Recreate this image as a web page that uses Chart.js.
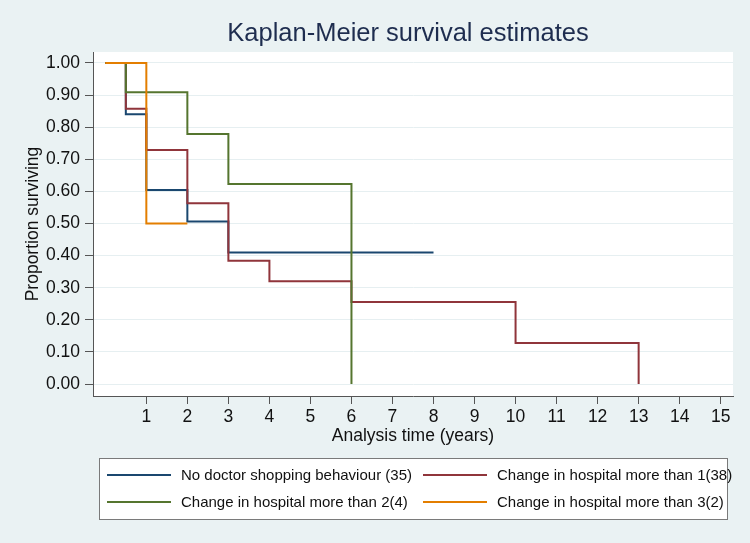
<!DOCTYPE html>
<html>
<head>
<meta charset="utf-8">
<script src="https://cdn.jsdelivr.net/npm/chart.js@4"></script>
<style>
	body { margin: 0; background: #eaf2f3; }
	canvas { display: block; }
</style>
</head>
<body>
<canvas id="kmChart" width="750" height="543"></canvas>
<script>
// survival step data (time in years, proportion surviving)
const noShopTime = [0, 0.5, 1, 2, 3, 8];
const noShopSurv = [1.0, 0.84, 0.604, 0.506, 0.41, 0.41];
const hosp1Time = [0, 0.5, 1, 2, 3, 4, 6, 10, 13];
const hosp1Surv = [1.0, 0.857, 0.729, 0.563, 0.384, 0.32, 0.256, 0.128, 0];
const hosp2Time = [0, 0.5, 2, 3, 6];
const hosp2Surv = [1.0, 0.909, 0.779, 0.623, 0];
const hosp3Time = [0, 1, 2];
const hosp3Surv = [1.0, 0.5, 0.5];

const seriesLabels = [
	"No doctor shopping behaviour (35)",
	"Change in hospital more than 1(38)",
	"Change in hospital more than 2(4)",
	"Change in hospital more than 3(2)"
];
const seriesColors = ["#1a476f", "#90353b", "#55752f", "#e37e00"];

const xTickValues = [1, 2, 3, 4, 5, 6, 7, 8, 9, 10, 11, 12, 13, 14, 15];
const yTickValues = [0, 0.1, 0.2, 0.3, 0.4, 0.5, 0.6, 0.7, 0.8, 0.9, 1.0];

const FONT = "'Liberation Sans', Arial, sans-serif";

function toPoints (times, surv) {
	return times.map((t, i) => ({ x: t, y: surv[i] }));
}

const allSeries = [
	toPoints(noShopTime, noShopSurv),
	toPoints(hosp1Time, hosp1Surv),
	toPoints(hosp2Time, hosp2Surv),
	toPoints(hosp3Time, hosp3Surv)
];

// later series drawn on top, like stata
const drawOrder = [3, 2, 1, 0];

const datasets = allSeries.map((pts, i) => ({
	label: seriesLabels[i],
	data: pts,
	borderColor: seriesColors[i],
	borderWidth: 2,
	pointRadius: 0,
	stepped: 'before',
	fill: false,
	order: drawOrder[i]
}));

// white plot region, title and boxed legend
const kmDecor = {
	id: 'kmDecor',
	beforeDraw (chart) {
		const { ctx, chartArea } = chart;
		ctx.save();
		ctx.fillStyle = '#ffffff';
		ctx.fillRect(chartArea.left, chartArea.top, chartArea.right - chartArea.left, chartArea.bottom - chartArea.top);
		ctx.restore();
	},
	afterDraw (chart) {
		const ctx = chart.ctx;
		ctx.save();

		ctx.fillStyle = '#1e2d4f';
		ctx.font = `25.5px ${FONT}`;
		ctx.textAlign = 'center';
		ctx.textBaseline = 'middle';
		ctx.fillText("Kaplan-Meier survival estimates", 408, 34);

		// legend box
		ctx.fillStyle = '#ffffff';
		ctx.fillRect(99, 458, 628, 61);
		ctx.strokeStyle = '#7a7a7a';
		ctx.lineWidth = 1;
		ctx.strokeRect(99.5, 458.5, 628, 61);

		const slots = [[107, 475], [423, 475], [107, 502], [423, 502]];
		ctx.font = `15px ${FONT}`;
		ctx.textAlign = 'left';
		chart.data.datasets.forEach((ds, i) => {
			const [lx, ly] = slots[i];
			ctx.strokeStyle = ds.borderColor;
			ctx.lineWidth = 2;
			ctx.beginPath();
			ctx.moveTo(lx, ly);
			ctx.lineTo(lx + 64, ly);
			ctx.stroke();
			ctx.fillStyle = '#111111';
			ctx.fillText(ds.label, lx + 74, ly + 1);
		});
		ctx.restore();
	}
};

const ctx = document.getElementById('kmChart').getContext('2d');

new Chart(ctx, {
	type: 'line',
	data: { datasets: datasets },
	options: {
		responsive: false,
		animation: false,
		layout: {
			padding: { top: 52, right: 17, left: 0, bottom: 93 }
		},
		plugins: {
			legend: { display: false },
			title: { display: false },
			tooltip: { enabled: false }
		},
		scales: {
			x: {
				type: 'linear',
				min: -0.3,
				max: 15.3,
				afterFit: (scale) => { scale.height = 54; },
				afterBuildTicks: (scale) => { scale.ticks = xTickValues.map(v => ({ value: v })); },
				grid: {
					drawOnChartArea: false,
					drawTicks: true,
					tickLength: 8,
					tickColor: '#555555'
				},
				border: { color: '#555555', width: 1 },
				ticks: {
					color: '#111111',
					font: { family: FONT, size: 17.5 },
					padding: 3,
					maxRotation: 0,
					autoSkip: false
				},
				title: {
					display: true,
					text: 'Analysis time (years)',
					color: '#111111',
					font: { family: FONT, size: 17.5 },
					padding: { top: 0, bottom: 3 }
				}
			},
			y: {
				type: 'linear',
				min: -0.037,
				max: 1.034,
				afterFit: (scale) => { scale.width = 93; },
				afterBuildTicks: (scale) => { scale.ticks = yTickValues.map(v => ({ value: v })); },
				grid: {
					color: '#e6eff1',
					lineWidth: 1,
					drawTicks: true,
					tickLength: 8,
					tickColor: '#555555'
				},
				border: { color: '#555555', width: 1 },
				ticks: {
					color: '#111111',
					font: { family: FONT, size: 17.5 },
					padding: 5,
					autoSkip: false,
					callback: (v) => Number(v).toFixed(2)
				},
				title: {
					display: true,
					text: 'Proportion surviving',
					color: '#111111',
					font: { family: FONT, size: 17.5 },
					padding: { top: 23, bottom: 0 }
				}
			}
		}
	},
	plugins: [kmDecor]
});
</script>
</body>
</html>
